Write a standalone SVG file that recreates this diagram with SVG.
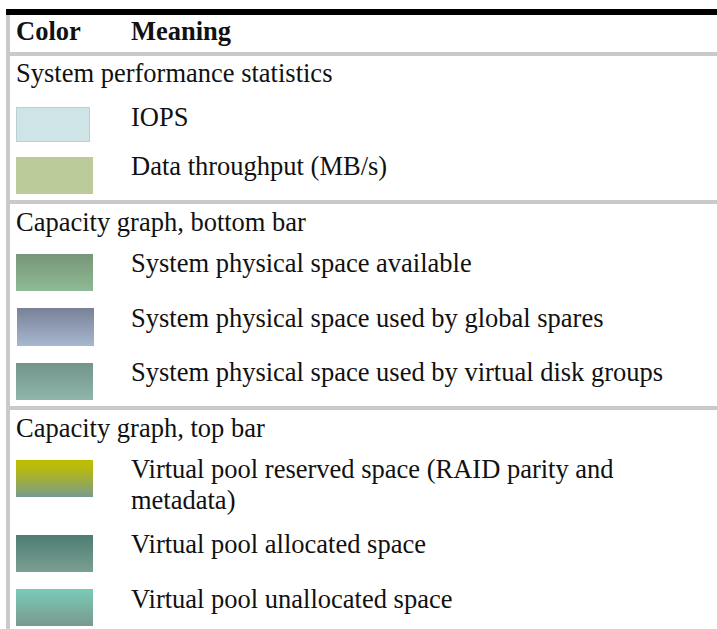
<svg xmlns="http://www.w3.org/2000/svg" width="717" height="629" viewBox="0 0 717 629">
<style>
text{font-family:"Liberation Serif","Times New Roman",serif;font-size:26.5px;fill:#111}
.h{font-weight:bold}
.rule{fill:#c9c9c9}
</style>
<defs>
<linearGradient id="gAvail" x1="0" y1="0" x2="0" y2="1"><stop offset="0" stop-color="#779677"/><stop offset="1" stop-color="#8fb994"/></linearGradient>
<linearGradient id="gSpares" x1="0" y1="0" x2="0" y2="1"><stop offset="0" stop-color="#788196"/><stop offset="1" stop-color="#a7b8d1"/></linearGradient>
<linearGradient id="gVdg" x1="0" y1="0" x2="0" y2="1"><stop offset="0" stop-color="#73948a"/><stop offset="1" stop-color="#8fb6ab"/></linearGradient>
<linearGradient id="gRes" x1="0" y1="0" x2="0" y2="1"><stop offset="0" stop-color="#bfbe02"/><stop offset="0.25" stop-color="#b6b812"/><stop offset="1" stop-color="#779b8c"/></linearGradient>
<linearGradient id="gAlloc" x1="0" y1="0" x2="0" y2="1"><stop offset="0" stop-color="#4d7d73"/><stop offset="1" stop-color="#7b9f93"/></linearGradient>
<linearGradient id="gUnalloc" x1="0" y1="0" x2="0" y2="1"><stop offset="0" stop-color="#79cbb9"/><stop offset="1" stop-color="#7a998d"/></linearGradient>
</defs>
<rect width="717" height="629" fill="#ffffff"/>
<g id="frame">
<rect x="6" y="9" width="711" height="6" fill="#000"/>
<rect x="6" y="15" width="4" height="614" class="rule"/>
<rect x="10" y="52" width="707" height="4" class="rule"/>
<rect x="10" y="200" width="707" height="4" class="rule"/>
<rect x="10" y="406" width="707" height="4" class="rule"/>
</g>
<g id="header">
<text x="16" y="39.5" class="h">Color</text>
<text x="131" y="39.5" class="h">Meaning</text>
</g>
<g id="sec-performance">
<text x="16" y="81.5">System performance statistics</text>
</g>
<g id="row-iops">
<rect x="16.5" y="107.5" width="73" height="34" fill="#cfe4e6" stroke="#b8d1d2" stroke-width="1"/>
<text x="131" y="125.5">IOPS</text>
</g>
<g id="row-throughput">
<rect x="16" y="157" width="77" height="37" fill="#bccb9a"/>
<text x="131" y="175">Data throughput (MB/s)</text>
</g>
<g id="sec-bottom">
<text x="16" y="230.5">Capacity graph, bottom bar</text>
</g>
<g id="row-available">
<rect x="16" y="254" width="77" height="37" fill="url(#gAvail)"/>
<text x="131" y="271.5">System physical space available</text>
</g>
<g id="row-spares">
<rect x="17" y="308" width="77" height="38" fill="url(#gSpares)"/>
<text x="131" y="326.5">System physical space used by global spares</text>
</g>
<g id="row-vdg">
<rect x="16" y="363" width="77" height="37" fill="url(#gVdg)"/>
<text x="131" y="380.5">System physical space used by virtual disk groups</text>
</g>
<g id="sec-top">
<text x="16" y="436.5">Capacity graph, top bar</text>
</g>
<g id="row-reserved">
<rect x="16" y="460" width="77" height="37" fill="url(#gRes)"/>
<text x="131" y="477.5">Virtual pool reserved space (RAID parity and</text>
<text x="131" y="508.5">metadata)</text>
</g>
<g id="row-allocated">
<rect x="16" y="535" width="77" height="37" fill="url(#gAlloc)"/>
<text x="131" y="553">Virtual pool allocated space</text>
</g>
<g id="row-unallocated">
<rect x="16" y="589" width="77" height="37" fill="url(#gUnalloc)"/>
<text x="131" y="607.5">Virtual pool unallocated space</text>
</g>
</svg>
